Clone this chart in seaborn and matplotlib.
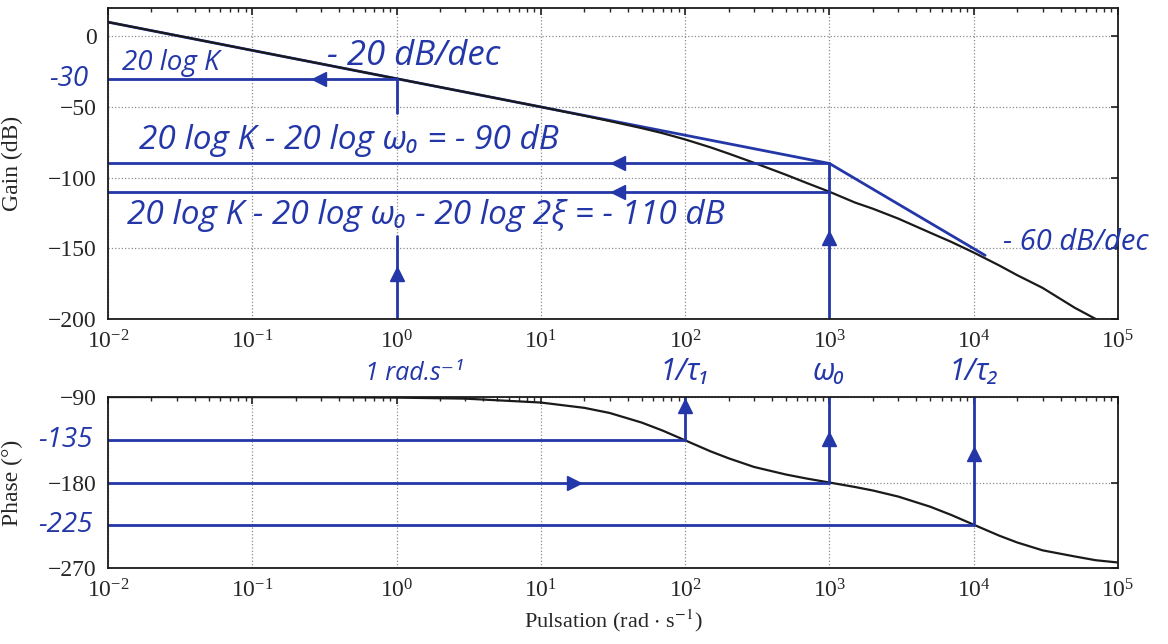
import numpy as np
import pandas as pd
import matplotlib
matplotlib.use("Agg")
import matplotlib.pyplot as plt
import seaborn as sns

# values (Bode plot of K / (p (1 + tau1 p)(1 + tau2 p)))
omega = [1e-2, 3e-2, 1e-1, 3e-1, 1, 3, 10, 20, 30, 50, 70, 100, 150, 200, 300,
         500, 700, 1000, 1500, 2000, 3000, 5000, 7000, 1e4, 1.5e4, 2e4, 3e4,
         5e4, 7e4, 1e5]
gain_db = [10, 0.5, -10, -19.5, -30, -39.5, -50, -56.2, -60, -65, -68.6, -73,
           -78.6, -83, -89.5, -98, -103.9, -110, -117.6, -122, -129, -139,
           -145.5, -153, -162.1, -169, -178, -192, -200, -210]
phase_deg = [-90, -90, -90.1, -90.2, -90.6, -91.7, -95.8, -101.4, -106.8,
             -116.9, -125.4, -135.6, -147.2, -154.5, -163.6, -171.6, -175.9,
             -180, -184.7, -188.4, -194.8, -205.5, -214.2, -224.4, -235.9,
             -243.1, -251.4, -257.8, -261.8, -264.2]

# hand-drawn asymptote (-20 dB/dec then -60 dB/dec)
asym_omega = [1e-2, 1e3, 1.2e4]
asym_gain = [10, -90, -155]

# hand-drawn construction lines
gain_levels = [-30, -90, -110]
gain_level_ends = [1, 1e3, 1e3]
gain_arrow_x = [0.29, 34, 34]
gain_vert_x = [1, 1, 1e3]
gain_vert_lo = [-54, -200, -200]
gain_vert_hi = [-30, -141, -90]
gain_up_arrows = [(1, -168), (1e3, -143)]

phase_levels = [-135, -180, -225]
phase_level_ends = [100, 1e3, 1e4]
phase_vert_x = [100, 1e3, 1e4]
phase_up_arrows_y = [-99, -134, -150]
phase_right_arrow = (17, -180)

gain_ticks = [0, -50, -100, -150, -200]
phase_ticks = [-90, -180, -270]
decades = [1e-2, 1e-1, 1, 1e1, 1e2, 1e3, 1e4, 1e5]

ink = "#2437a8"
hand = {"family": ["Open Sans", "DejaVu Sans"], "style": "italic", "color": ink}

sns.set_theme(style="white")
plt.rcParams["font.family"] = ["Liberation Serif", "DejaVu Serif"]
plt.rcParams["mathtext.fontset"] = "stix"

df = pd.DataFrame({"omega": omega, "gain": gain_db, "phase": phase_deg})

fig = plt.figure(figsize=(11.68, 6.44), dpi=100)
ax1 = fig.add_axes([0.0925, 0.5047, 0.8647, 0.4829])
ax2 = fig.add_axes([0.0925, 0.118, 0.8647, 0.2655])

for ax in (ax1, ax2):
    ax.set_xscale("log")
    ax.set_xlim(1e-2, 1e5)
    ax.set_xticks(decades)
    ax.grid(True, which="major", linestyle=":", color="0.55", linewidth=0.9)
    ax.tick_params(which="both", direction="in", top=True, right=True,
                   labelsize=17, length=5, pad=8)
    ax.tick_params(which="minor", length=3)
    for s in ax.spines.values():
        s.set_linewidth(1.3)
        s.set_color("0.1")

# gain panel
sns.lineplot(x=asym_omega, y=asym_gain, ax=ax1, color=ink, linewidth=2.0)
sns.lineplot(data=df, x="omega", y="gain", ax=ax1, color="0.1", linewidth=1.6)
for y, xe in zip(gain_levels, gain_level_ends):
    ax1.plot([1e-2, xe], [y, y], color=ink, linewidth=2.0)
for x, y in zip(gain_arrow_x, gain_levels):
    ax1.plot(x, y, marker="<", markersize=10, color=ink)
for x, lo, hi in zip(gain_vert_x, gain_vert_lo, gain_vert_hi):
    ax1.plot([x, x], [lo, hi], color=ink, linewidth=2.0)
for x, y in gain_up_arrows:
    ax1.plot(x, y, marker="^", markersize=10, color=ink)
ax1.set_ylim(-200, 20)
ax1.set_yticks(gain_ticks)
ax1.set_ylabel("Gain (dB)", fontsize=17)
ax1.yaxis.set_label_coords(-0.084, 0.5)
ax1.set_xlabel("")

ax1.text(0.33, -20, "- 20 dB/dec", fontsize=25, **hand)
ax1.text(0.0125, -24, "20 log K", fontsize=20, **hand)
ax1.text(-0.058, -30, "-30", fontsize=20, transform=ax1.get_yaxis_transform(),
         ha="left", va="center", **hand)
ax1.text(0.0165, -80, "20 log K - 20 log ω₀ = - 90 dB", fontsize=24, **hand)
ax1.text(0.0135, -133, "20 log K - 20 log ω₀ - 20 log 2ξ = - 110 dB", fontsize=24, **hand)
ax1.text(1.6e4, -151, "- 60 dB/dec", fontsize=21, clip_on=False, **hand)

# phase panel
sns.lineplot(data=df, x="omega", y="phase", ax=ax2, color="0.1", linewidth=1.6)
for y, xe in zip(phase_levels, phase_level_ends):
    ax2.plot([1e-2, xe], [y, y], color=ink, linewidth=2.0)
for x, y0, ya in zip(phase_vert_x, phase_levels, phase_up_arrows_y):
    ax2.plot([x, x], [y0, -90], color=ink, linewidth=2.0)
    ax2.plot(x, ya, marker="^", markersize=10, color=ink)
ax2.plot(*phase_right_arrow, marker=">", markersize=10, color=ink)
ax2.set_ylim(-270, -90)
ax2.set_yticks(phase_ticks)
ax2.set_ylabel("Phase (°)", fontsize=17)
ax2.yaxis.set_label_coords(-0.084, 0.5)
ax2.set_xlabel(r"Pulsation (rad $\cdot$ s$^{-1}$)", fontsize=16)

for y, lab in zip([-135, -225], ["-135", "-225"]):
    ax2.text(-0.069, y, lab, fontsize=20, transform=ax2.get_yaxis_transform(),
             ha="left", va="center", **hand)
ax2.text(0.6, -72, "1 rad.s⁻¹", fontsize=18, clip_on=False, **hand)
for x, lab in zip(phase_vert_x, ["1/τ₁", "ω₀", "1/τ₂"]):
    ax2.text(x, -72, lab, fontsize=22, ha="center", clip_on=False, **hand)

fig.savefig("out.png", dpi=100)
